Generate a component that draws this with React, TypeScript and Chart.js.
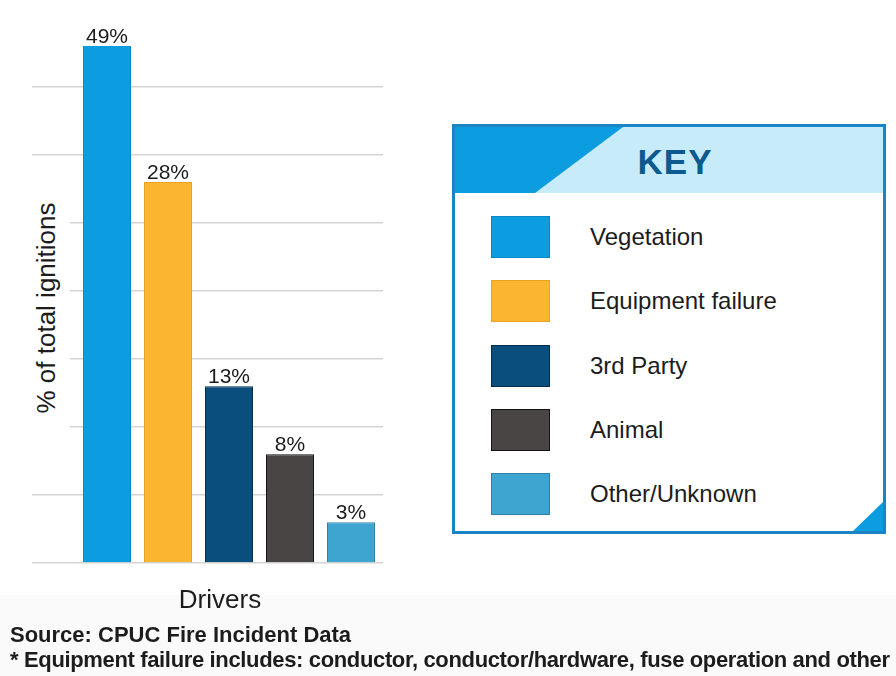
import React, { useEffect, useRef } from "react";
import { Chart, registerables } from "chart.js";

Chart.register(...registerables);

const categories = ["Vegetation", "Equipment failure", "3rd Party", "Animal", "Other/Unknown"];
const values = [49, 28, 13, 8, 3];
const valueLabels = ["49%", "28%", "13%", "8%", "3%"];
const barColors = ["#0c9de0", "#fbb531", "#0a4e7e", "#4a4545", "#3ea5d0"];
const barBorders = ["#0b88c4", "#e9a222", "#072c4a", "#141212", "#2d80a6"];
const yStep = 5;
const yMax = 38;
const yTitle = "% of total ignitions";
const xTitle = "Drivers";
const sourceNote = "Source: CPUC Fire Incident Data";
const footNote = "* Equipment failure includes: conductor, conductor/hardware, fuse operation and other";
const legendTitle = "KEY";

const FONT = '"Liberation Sans", Arial, Helvetica, sans-serif';

const labelPlugin = {
  id: "valueLabels",
  afterDatasetsDraw(chart: any) {
    const ctx = chart.ctx;
    const meta = chart.getDatasetMeta(0);
    const top = chart.chartArea.top;
    ctx.save();
    ctx.font = `21px ${FONT}`;
    ctx.fillStyle = "#1c1c1c";
    ctx.textAlign = "center";
    ctx.textBaseline = "alphabetic";
    meta.data.forEach((el: any, i: number) => {
      const y = Math.max(el.y, top);
      ctx.fillText(valueLabels[i], el.x, y - 3);
    });
    ctx.restore();
  },
};

export default function App() {
  const canvasRef = useRef<HTMLCanvasElement | null>(null);

  useEffect(() => {
    if (!canvasRef.current) return;
    const chart = new Chart(canvasRef.current, {
      type: "bar",
      data: {
        datasets: [
          {
            label: "% of total ignitions",
            data: values.map((v, i) => ({ x: i, y: v })) as any,
            backgroundColor: barColors,
            borderColor: barBorders,
            borderWidth: 1,
            categoryPercentage: 1,
            barPercentage: 0.787,
          },
        ],
      },
      options: {
        responsive: false,
        animation: false,
        layout: { padding: { left: 32, right: 513, top: 46, bottom: 113 } },
        plugins: { legend: { display: false }, tooltip: { enabled: false } },
        scales: {
          x: { type: "linear", display: false, offset: false, grid: { offset: false }, min: -1.23, max: 4.525 },
          y: {
            min: 0,
            max: yMax,
            grid: { color: "#d4d4d4", lineWidth: 1.5, drawTicks: false },
            border: { display: false },
            ticks: { display: false, stepSize: yStep, includeBounds: false },
          },
        },
      },
      plugins: [labelPlugin],
    });
    return () => chart.destroy();
  }, []);

  const abs = (o: React.CSSProperties): React.CSSProperties => ({ position: "absolute", ...o });

  return (
    <div style={{ position: "fixed", left: 0, top: 0, width: 896, height: 676, background: "#ffffff", fontFamily: FONT, overflow: "hidden" }}>
      <div style={abs({ left: 0, top: 595, width: 896, height: 81, background: "#fafafa" })} />
      <canvas ref={canvasRef} width={896} height={676} style={abs({ left: 0, top: 0, width: 896, height: 676 })} />

      {/* Y axis title */}
      <div style={abs({ left: 28, top: 188, width: 42, height: 244, background: "#ffffff" })}>
        <span
          style={abs({
            left: "50%",
            top: "50%",
            transform: "translate(-50%, -50%) rotate(-90deg)",
            whiteSpace: "nowrap",
            fontSize: 26,
            lineHeight: "26px",
            color: "#1c1c1c",
            marginLeft: -3,
            marginTop: -2,
          })}
        >
          {yTitle}
        </span>
      </div>

      {/* X axis title */}
      <div style={abs({ left: 120, width: 200, top: 586, textAlign: "center", fontSize: 26, lineHeight: "26px", color: "#1c1c1c" })}>{xTitle}</div>

      {/* Footer */}
      <div style={abs({ left: 10, top: 624, fontSize: 22, lineHeight: "22px", fontWeight: "bold", color: "#1c1c1c", whiteSpace: "nowrap" })}>{sourceNote}</div>
      <div style={abs({ left: 10, top: 649, fontSize: 22, lineHeight: "22px", fontWeight: "bold", color: "#1c1c1c", whiteSpace: "nowrap", letterSpacing: "-0.35px" })}>{footNote}</div>

      {/* Legend */}
      <div style={abs({ left: 452, top: 124, width: 434, height: 410, border: "3px solid #1b84c4", boxSizing: "border-box", background: "#ffffff" })}>
        <div style={abs({ left: 0, top: 0, width: 428, height: 66, background: "#c8ebfa" })} />
        <div style={abs({ left: 0, top: 0, width: 168, height: 66, background: "#0c9de0", clipPath: "polygon(0 0, 168px 0, 80px 66px, 0 66px)" })} />
        <div style={abs({ left: 120, top: 15, width: 200, textAlign: "center", fontSize: 35, lineHeight: "40px", fontWeight: 900, color: "#0d5b8e", letterSpacing: 1 })}>{legendTitle}</div>
        <div style={abs({ left: 398, top: 375, width: 30, height: 29, background: "#0c9de0", clipPath: "polygon(100% 0, 100% 100%, 0 100%)" })} />
        {categories.map((c, i) => (
          <React.Fragment key={c}>
            <div
              style={abs({
                left: 36,
                top: 89 + i * 64.3,
                width: 59,
                height: 42,
                background: barColors[i],
                border: `1px solid ${barBorders[i]}`,
                boxSizing: "border-box",
              })}
            />
            <div style={abs({ left: 135, top: 89 + i * 64.3, height: 42, lineHeight: "42px", fontSize: 24, color: "#1c1c1c", whiteSpace: "nowrap" })}>{c}</div>
          </React.Fragment>
        ))}
      </div>
    </div>
  );
}
